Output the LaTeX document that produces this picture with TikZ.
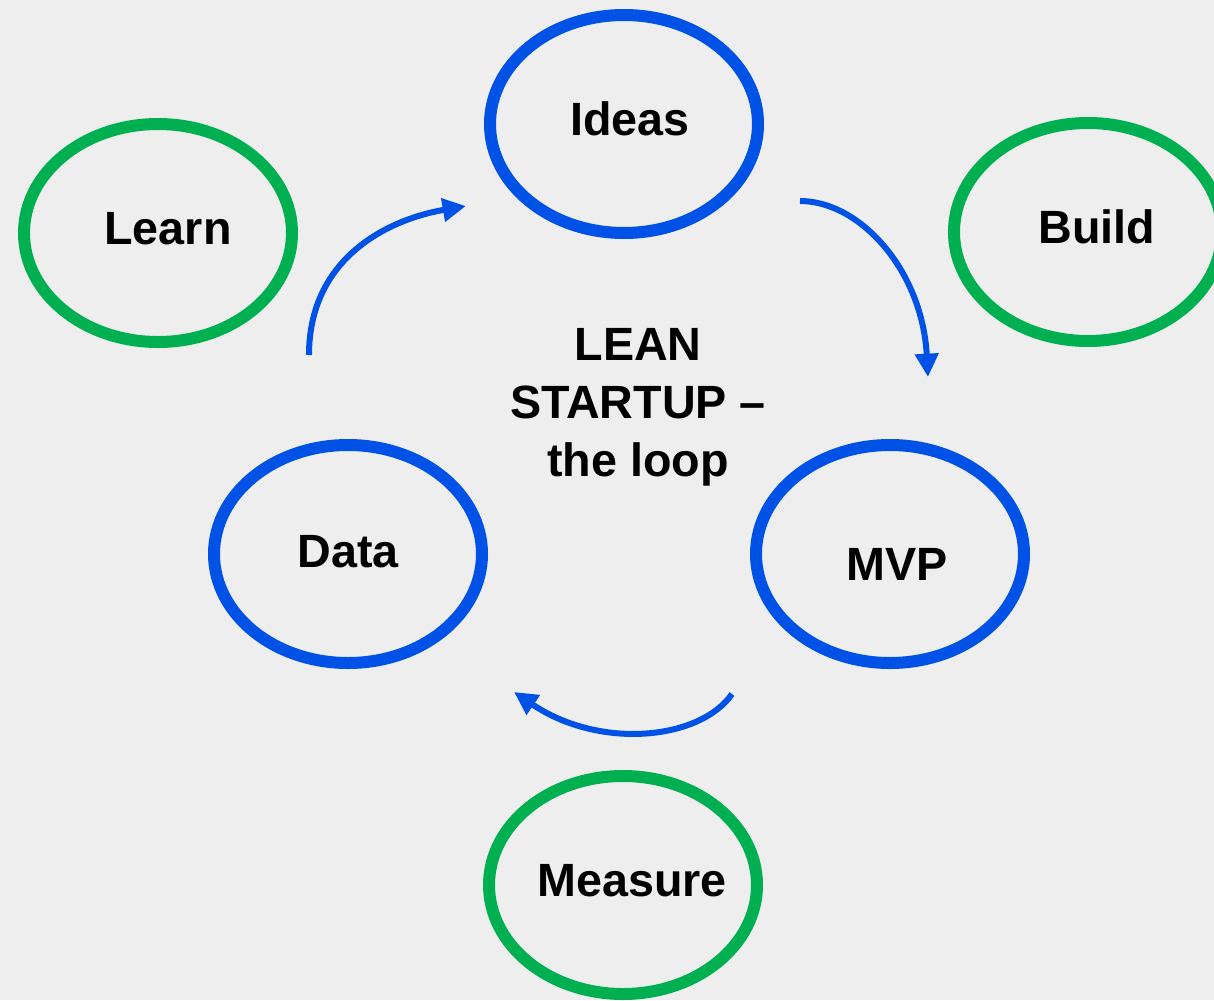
\documentclass[tikz,border=0pt]{standalone}
\usepackage{fontspec}
\setmainfont{Liberation Sans}
\usetikzlibrary{shapes.geometric,arrows.meta}
\definecolor{bg}{HTML}{EEEEEE}
\definecolor{loopblue}{HTML}{0052E6}
\definecolor{stepgreen}{HTML}{00B050}
\begin{document}
\begin{tikzpicture}[x=0.75pt,y=-0.75pt,
  ring/.style={ellipse,draw,line width=9pt,minimum width=201pt,minimum height=163.5pt,inner sep=0pt},
  loopring/.style={ring,draw=loopblue},
  stepring/.style={ring,draw=stepgreen},
  lbl/.style={anchor=base,font=\fontsize{35}{43.5}\selectfont\bfseries,text=black,inner sep=0pt},
  looparrow/.style={draw=loopblue,line width=4.5pt,-{Triangle[length=17.5pt,width=17pt]}}]
  % background
  \fill[bg] (0,0) rectangle (1214,1000);
  \clip (0,0) rectangle (1214,1000);

  % the four stages of the loop
  \node[loopring] (ideas) at (624,124) {};
  \node[loopring] (mvp) at (890,554) {};
  \node[loopring] (data) at (348,554) {};
  % the three activities between them
  \node[stepring] (learn) at (158,233) {};
  \node[stepring] (build) at (1088,232) {};
  \node[stepring] (measure) at (623,885) {};

  % labels
  \node[lbl] (ideas-t) at (630,135) {Ideas};
  \node[lbl] (mvp-t) at (897,580) {MVP};
  \node[lbl] (data-t) at (348,567) {Data};
  \node[lbl] (learn-t) at (168,244) {Learn};
  \node[lbl] (build-t) at (1097,243) {Build};
  \node[lbl] (measure-t) at (632,896) {Measure};
  \node[lbl,align=center,anchor=north] (title) at (638,328)
    {LEAN\\STARTUP –\\the loop};

  % curved arrows around the loop
  \coordinate (a1s) at (309,355);
  \coordinate (a1e) at (466,206);
  \coordinate (a2s) at (800,201);
  \coordinate (a2e) at (928,377);
  \coordinate (a3s) at (732,694);
  \coordinate (a3e) at (514,692);
  \draw[looparrow] (a1s) .. controls (309,260) and (385,220) .. (a1e);
  \draw[looparrow] (a2s) .. controls (860,201) and (922,270) .. (a2e);
  \draw[looparrow] (a3s) .. controls (700,740) and (600,750) .. (a3e);
\end{tikzpicture}
\end{document}
